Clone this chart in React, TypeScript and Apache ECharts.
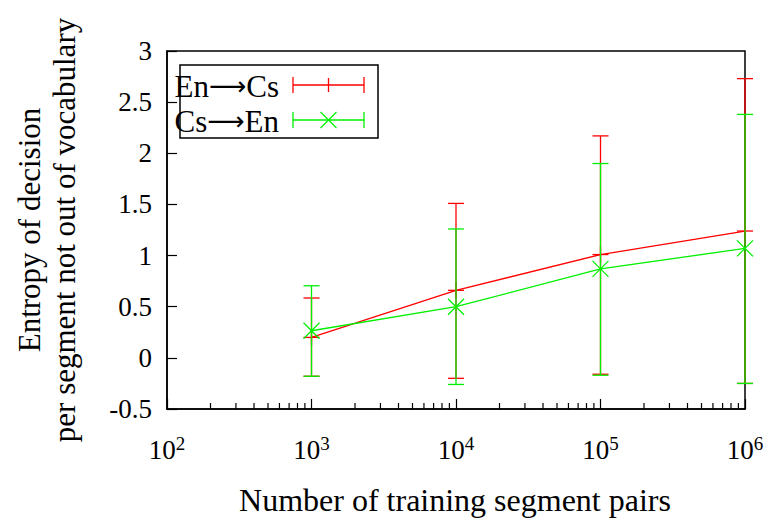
import React, { useEffect, useRef } from "react";
import * as echarts from "echarts";

const xValues = [1e3, 1e4, 1e5, 1e6];
const enCsMean = [0.2, 0.66, 1.01, 1.24];
const enCsLow = [-0.18, -0.2, -0.16, -0.25];
const enCsHigh = [0.585, 1.51, 2.17, 2.73];
const csEnMean = [0.265, 0.5, 0.87, 1.07];
const csEnLow = [-0.18, -0.26, -0.17, -0.25];
const csEnHigh = [0.705, 1.26, 1.9, 2.38];

const decades = [100, 1000, 10000, 100000];
const minorMultipliers = [2, 3, 4, 5, 6, 7, 8, 9];

const yTitle1 = "Entropy of decision";
const yTitle2 = "per segment not out of vocabulary";
const xTitle = "Number of training segment pairs";
const legendFrom = ["En", "Cs"];
const legendTo = ["Cs", "En"];
const legendNames = ["En\u2192Cs", "Cs\u2192En"];

const RED = "#ff0000";
const GREEN = "#00f000";
const FONT = "'Liberation Serif', 'DejaVu Serif', serif";

function errRender(color: string, marker: "plus" | "cross") {
  return (params: any, api: any) => {
    const x = api.value(0);
    const lo = api.value(1);
    const hi = api.value(2);
    const m = api.value(3);
    const pLo = api.coord([x, lo]);
    const pHi = api.coord([x, hi]);
    const pM = api.coord([x, m]);
    const w = 8;
    const style = { stroke: color, lineWidth: 1.3 };
    const children: any[] = [
      { type: "line", shape: { x1: pLo[0], y1: pLo[1], x2: pHi[0], y2: pHi[1] }, style },
      { type: "line", shape: { x1: pLo[0] - w, y1: pLo[1], x2: pLo[0] + w, y2: pLo[1] }, style },
      { type: "line", shape: { x1: pHi[0] - w, y1: pHi[1], x2: pHi[0] + w, y2: pHi[1] }, style },
    ];
    if (marker === "plus") {
      children.push({ type: "line", shape: { x1: pM[0] - w, y1: pM[1], x2: pM[0] + w, y2: pM[1] }, style });
      children.push({ type: "line", shape: { x1: pM[0], y1: pM[1] - w, x2: pM[0], y2: pM[1] + w }, style });
    } else {
      children.push({ type: "line", shape: { x1: pM[0] - w, y1: pM[1] - w, x2: pM[0] + w, y2: pM[1] + w }, style });
      children.push({ type: "line", shape: { x1: pM[0] - w, y1: pM[1] + w, x2: pM[0] + w, y2: pM[1] - w }, style });
    }
    return { type: "group", children };
  };
}

function legendSample(cx0: number, cx1: number, cy: number, color: string, marker: "plus" | "cross") {
  const w = 8;
  const style = { stroke: color, lineWidth: 1.3 };
  const mid = (cx0 + cx1) / 2;
  const items: any[] = [
    { type: "line", shape: { x1: cx0, y1: cy, x2: cx1, y2: cy }, style },
    { type: "line", shape: { x1: cx0, y1: cy - w, x2: cx0, y2: cy + w }, style },
    { type: "line", shape: { x1: cx1, y1: cy - w, x2: cx1, y2: cy + w }, style },
  ];
  if (marker === "plus") {
    items.push({ type: "line", shape: { x1: mid, y1: cy - 7, x2: mid, y2: cy + 7 }, style });
  } else {
    items.push({ type: "line", shape: { x1: mid - 8, y1: cy - 8, x2: mid + 8, y2: cy + 8 }, style });
    items.push({ type: "line", shape: { x1: mid - 8, y1: cy + 8, x2: mid + 8, y2: cy - 8 }, style });
  }
  return items;
}

export default function App() {
  const ref = useRef<HTMLDivElement>(null);
  useEffect(() => {
    if (!ref.current) return;
    const chart = echarts.init(ref.current, undefined, { renderer: "svg" });
    const minorTicks: number[] = [];
    decades.forEach((d) => minorMultipliers.forEach((k) => minorTicks.push(d * k)));

    const legendRich = {
      t: { fontSize: 31, fontFamily: FONT, color: "#000" },
      a: { fontSize: 26, fontFamily: "'DejaVu Sans', sans-serif", color: "#000" },
    };

    const option: any = {
      animation: false,
      backgroundColor: "#ffffff",
      grid: {
        left: 167,
        right: 23,
        top: 51,
        bottom: 113,
        show: true,
        borderColor: "#000",
        borderWidth: 1.5,
        backgroundColor: "transparent",
      },
      xAxis: {
        type: "log",
        logBase: 10,
        min: 100,
        max: 1e6,
        axisLine: { show: true, onZero: false, lineStyle: { color: "#000", width: 1.5 } },
        axisTick: { show: true, inside: true, length: 10, lineStyle: { color: "#000", width: 1.2 } },
        splitLine: { show: false },
        axisLabel: {
          margin: 25,
          formatter: (v: number) => `{b|10}{s|${Math.round(Math.log10(v))}}`,
          rich: {
            b: { fontSize: 27, fontFamily: FONT, color: "#000" },
            s: { fontSize: 19, fontFamily: FONT, color: "#000", padding: [0, 0, 13, 0] },
          },
        },
      },
      yAxis: {
        type: "value",
        min: -0.5,
        max: 3,
        interval: 0.5,
        axisLine: { show: true, onZero: false, lineStyle: { color: "#000", width: 1.5 } },
        axisTick: { show: true, inside: true, length: 10, lineStyle: { color: "#000", width: 1.2 } },
        splitLine: { show: false },
        axisLabel: { margin: 15, fontSize: 27, fontFamily: FONT, color: "#000" },
      },
      series: [
        {
          name: "minor",
          type: "custom",
          silent: true,
          data: minorTicks.map((v) => [v, -0.5]),
          encode: { x: 0, y: 1 },
          renderItem: (params: any, api: any) => {
            const p = api.coord([api.value(0), api.value(1)]);
            return {
              type: "line",
              shape: { x1: p[0], y1: p[1], x2: p[0], y2: p[1] - 6 },
              style: { stroke: "#000", lineWidth: 1.2 },
            };
          },
        },
        {
          name: legendNames[0],
          type: "line",
          data: xValues.map((x, i) => [x, enCsMean[i]]),
          symbol: "none",
          lineStyle: { color: RED, width: 1.3 },
          z: 3,
        },
        {
          name: legendNames[0] + " err",
          type: "custom",
          data: xValues.map((x, i) => [x, enCsLow[i], enCsHigh[i], enCsMean[i]]),
          encode: { x: 0, y: [1, 2] },
          renderItem: errRender(RED, "plus"),
          z: 4,
        },
        {
          name: legendNames[1],
          type: "line",
          data: xValues.map((x, i) => [x, csEnMean[i]]),
          symbol: "none",
          lineStyle: { color: GREEN, width: 1.3 },
          z: 5,
        },
        {
          name: legendNames[1] + " err",
          type: "custom",
          data: xValues.map((x, i) => [x, csEnLow[i], csEnHigh[i], csEnMean[i]]),
          encode: { x: 0, y: [1, 2] },
          renderItem: errRender(GREEN, "cross"),
          z: 6,
        },
      ],
      graphic: [
        {
          type: "rect",
          shape: { x: 180, y: 65, width: 198, height: 73 },
          style: { fill: "transparent", stroke: "#000", lineWidth: 1.5 },
          z: 10,
        },
        {
          type: "text",
          x: 279,
          y: 86,
          style: {
            text: `{t|${legendFrom[0]}}{a|\u27F6}{t|${legendTo[0]}}`,
            rich: legendRich,
            textAlign: "right",
            textVerticalAlign: "middle",
          },
          z: 10,
        },
        {
          type: "text",
          x: 279,
          y: 121,
          style: {
            text: `{t|${legendFrom[1]}}{a|\u27F6}{t|${legendTo[1]}}`,
            rich: legendRich,
            textAlign: "right",
            textVerticalAlign: "middle",
          },
          z: 10,
        },
        ...legendSample(293, 364, 85, RED, "plus").map((g) => ({ ...g, z: 10 })),
        ...legendSample(293, 364, 120, GREEN, "cross").map((g) => ({ ...g, z: 10 })),
        {
          type: "text",
          x: 455,
          y: 500,
          style: { text: xTitle, font: `32px ${FONT}`, fill: "#000", textAlign: "center", textVerticalAlign: "middle" },
        },
        {
          type: "text",
          x: 29,
          y: 230,
          rotation: Math.PI / 2,
          style: { text: yTitle1, font: `31px ${FONT}`, fill: "#000", textAlign: "center", textVerticalAlign: "middle" },
        },
        {
          type: "text",
          x: 64,
          y: 230,
          rotation: Math.PI / 2,
          style: { text: yTitle2, font: `31px ${FONT}`, fill: "#000", textAlign: "center", textVerticalAlign: "middle" },
        },
      ],
    };
    chart.setOption(option);
    return () => chart.dispose();
  }, []);
  return <div ref={ref} style={{ position: "absolute", left: 0, top: 0, width: 768, height: 522 }} />;
}
